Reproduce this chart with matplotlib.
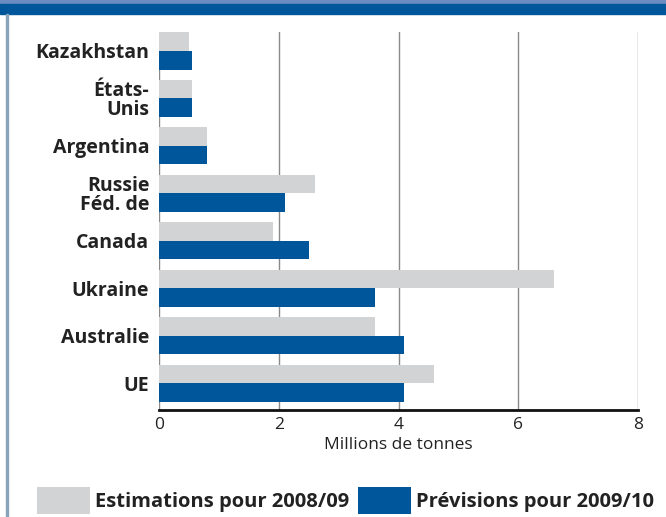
import matplotlib
matplotlib.use("Agg")
import matplotlib.pyplot as plt
from matplotlib.patches import Rectangle, Patch
from matplotlib.transforms import ScaledTranslation
import numpy as np

plt.rcParams['font.family'] = ['Open Sans', 'DejaVu Sans']

categories = ["Kazakhstan", "États-\nUnis", "Argentina", "Russie\nFéd. de",
              "Canada", "Ukraine", "Australie", "UE"]
est_2008_09 = [0.5, 0.55, 0.8, 2.6, 1.9, 6.6, 3.6, 4.6]
prev_2009_10 = [0.55, 0.55, 0.8, 2.1, 2.5, 3.6, 4.1, 4.1]
xticks = [0, 2, 4, 6, 8]
xlabel = "Millions de tonnes"
legend_labels = ["Estimations pour 2008/09", "Prévisions pour 2009/10"]

GREY = "#d1d3d4"
BLUE = "#00569a"

fig = plt.figure(figsize=(6.66, 5.17), dpi=100)
ax = fig.add_axes([159/666, 107/517, (638-159)/666, (410-32)/517])

y = np.arange(len(categories))
h = 0.39
ax.barh(y - h/2, est_2008_09, height=h, color=GREY, zorder=3)
ax.barh(y + h/2, prev_2009_10, height=h, color=BLUE, zorder=3)

ax.set_xlim(0, 8)
ax.set_ylim(7.56, -0.40)
ax.set_xticks(xticks)
ax.set_xticklabels([str(t) for t in xticks], fontsize=12.5, color="#222222")
ax.set_yticks(y)
ax.set_yticklabels(categories, fontsize=14, fontweight="bold", color="#222222",
                   linespacing=0.95)
shift = ScaledTranslation(0, 3/100, fig.dpi_scale_trans)
for lbl in ax.get_yticklabels():
    lbl.set_transform(lbl.get_transform() + shift)
ax.tick_params(axis="both", length=0)
ax.tick_params(axis="x", pad=5)
ax.tick_params(axis="y", pad=7)
ax.xaxis.grid(True, color="#8a8a8a", linewidth=1.0, zorder=0)
ax.set_axisbelow(True)
for s in ["top", "right", "left"]:
    ax.spines[s].set_visible(False)
ax.spines["bottom"].set_linewidth(2.0)
ax.spines["bottom"].set_color("#111111")
ax.set_xlabel(xlabel, fontsize=12.5, color="#222222", labelpad=3)

# Decorative frame: top band and left line
fig.patches.append(Rectangle((0, 1 - 4/517), 1, 4/517, transform=fig.transFigure,
                             color="#6a8cc0", zorder=0))
fig.patches.append(Rectangle((0, 1 - 14/517), 1, 10/517, transform=fig.transFigure,
                             color="#00569a", zorder=0))
fig.patches.append(Rectangle((6/666, 0), 2/666, 1 - 14/517, transform=fig.transFigure,
                             color="#8aa4bb", zorder=0))

handles = [Patch(facecolor=GREY, edgecolor="none"), Patch(facecolor=BLUE, edgecolor="none")]
fig.legend(handles, legend_labels, loc="center left", bbox_to_anchor=(0.055, 0.032),
           ncol=2, frameon=False, prop={"size": 14.5, "weight": "bold"},
           handlelength=2.64, handleheight=1.64, handletextpad=0.25,
           columnspacing=0.45, borderpad=0, borderaxespad=0,
           labelcolor="#222222")

fig.savefig("out.png", dpi=100)
